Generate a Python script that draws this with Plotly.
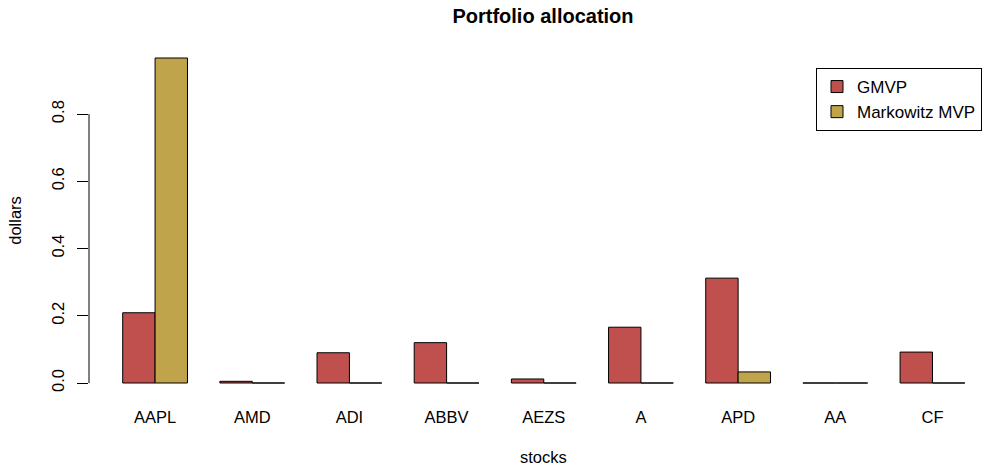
import plotly.graph_objects as go

stocks = ["AAPL", "AMD", "ADI", "ABBV", "AEZS", "A", "APD", "AA", "CF"]
gmvp = [0.209, 0.005, 0.090, 0.120, 0.012, 0.166, 0.312, 0.0, 0.092]
markowitz = [0.967, 0.0, 0.0, 0.0, 0.0, 0.0, 0.033, 0.0, 0.0]
y_ticks = [0.0, 0.2, 0.4, 0.6, 0.8]
y_ticktext = ["0.0", "0.2", "0.4", "0.6", "0.8"]

FONT = "Liberation Sans, Arial, Helvetica, sans-serif"
GMVP_COLOR = "#C0504D"
MARK_COLOR = "#C0A44C"

fig = go.Figure()
fig.add_trace(go.Bar(x=stocks, y=gmvp, name="GMVP",
                     marker=dict(color=GMVP_COLOR, line=dict(color="black", width=1))))
fig.add_trace(go.Bar(x=stocks, y=markowitz, name="Markowitz MVP",
                     marker=dict(color=MARK_COLOR, line=dict(color="black", width=1))))

ymax = max(max(gmvp), max(markowitz))
fig.update_layout(
    width=983, height=467,
    margin=dict(l=89, r=0, t=45, b=71, autoexpand=False),
    paper_bgcolor="white", plot_bgcolor="white",
    barmode="group", bargap=1/3, bargroupgap=0,
    font=dict(family=FONT, size=16.5, color="black"),
    title=dict(text="<b>Portfolio allocation</b>", x=543/983, xref="container", xanchor="center",
               y=1 - 16/467, yref="container", yanchor="middle",
               font=dict(family=FONT, size=20, color="black")),
    showlegend=True,
    legend=dict(x=(816-89)/894, y=(396-68)/351, xanchor="left", yanchor="top",
                bordercolor="black", borderwidth=1, bgcolor="white",
                font=dict(family=FONT, size=17, color="black"),
                tracegroupgap=0, itemwidth=30),
    xaxis=dict(type="category", range=[-0.68, 8.52], showline=False, showgrid=False,
               zeroline=False, ticks="outside", ticklen=6, tickcolor="rgba(0,0,0,0)",
               automargin=False),
    yaxis=dict(range=[-0.04 * ymax, 1.04 * ymax], tickvals=y_ticks, ticktext=y_ticktext,
               tickangle=-90, showline=False, showgrid=False, zeroline=False,
               ticks="outside", ticklen=11, tickcolor="black", tickwidth=1,
               ticklabelstandoff=6, automargin=False,
               title=dict(text="dollars", standoff=23, font=dict(size=16.5))),
)
fig.add_annotation(text="stocks", xref="paper", yref="paper",
                   x=(543-89)/894, y=(396-457)/351, xanchor="center", yanchor="middle",
                   showarrow=False, font=dict(family=FONT, size=16.5, color="black"))
fig.add_shape(type="line", xref="paper", yref="y", x0=0, x1=0,
              y0=min(y_ticks), y1=max(y_ticks), line=dict(color="black", width=1))

fig.write_html("out.html", config={"displayModeBar": False},
               post_script="document.body.style.margin='0';document.body.style.overflow='hidden';")
